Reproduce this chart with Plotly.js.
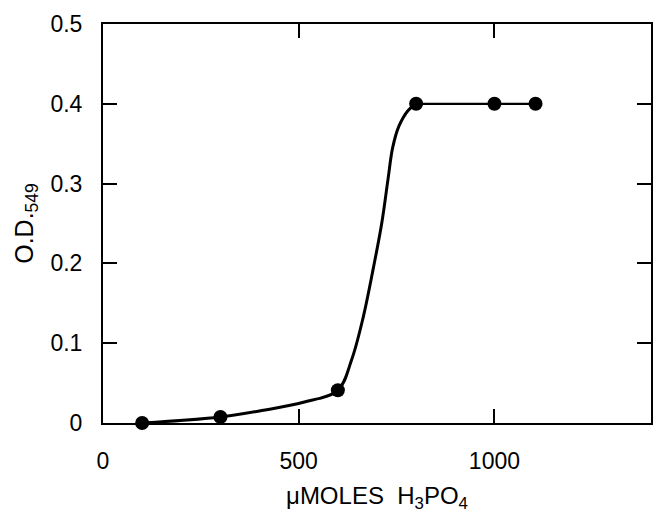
<!DOCTYPE html>
<html>
<head>
<meta charset="utf-8">
<script src="https://cdn.plot.ly/plotly-3.0.1.min.js"></script>
<style>html,body{margin:0;padding:0;background:#fff;}#chart{width:653px;height:513px;}</style>
</head>
<body>
<div id="chart"></div>
<script>
// Measured points
var dataX = [100, 300, 600, 800, 1000, 1105];
var dataY = [0, 0.0075, 0.041, 0.4, 0.4, 0.4];

// Hand-drawn rising curve
var curveX = [100, 300, 410, 512, 600, 635, 665, 691, 712, 728, 740, 756, 780, 800];
var curveY = [0, 0.0075, 0.016, 0.026, 0.041, 0.079, 0.133, 0.195, 0.25, 0.305, 0.345, 0.372, 0.392, 0.4];

// Plateau segment
var plateauX = [800, 1000, 1105];
var plateauY = [0.4, 0.4, 0.4];

// Tick labels
var xTickVals = [0, 500, 1000];
var xTickText = ["0", "500", "1000"];
var yTickVals = [0, 0.1, 0.2, 0.3, 0.4, 0.5];
var yTickText = ["0", "0.1", "0.2", "0.3", "0.4", "0.5"];

var font = "Liberation Sans, Arial, sans-serif";

var traces = [
  {x: curveX, y: curveY, mode: "lines", type: "scatter",
   line: {color: "#000", width: 3, shape: "spline", smoothing: 1},
   hoverinfo: "skip", cliponaxis: false},
  {x: plateauX, y: plateauY, mode: "lines", type: "scatter",
   line: {color: "#000", width: 2.2},
   hoverinfo: "skip", cliponaxis: false},
  {x: dataX, y: dataY, mode: "markers", type: "scatter",
   marker: {color: "#000", size: 14}, cliponaxis: false}
];

var axisCommon = {
  showline: true, linecolor: "#000", linewidth: 2, mirror: "ticks",
  ticks: "inside", ticklen: 14, tickwidth: 2, tickcolor: "#000",
  showgrid: false, zeroline: false, tickmode: "array",
  tickfont: {family: font, size: 23, color: "#000"}
};

var layout = {
  width: 653, height: 513,
  margin: {l: 103, r: 2, t: 24, b: 90},
  paper_bgcolor: "#fff", plot_bgcolor: "#fff",
  showlegend: false,
  xaxis: Object.assign({}, axisCommon, {
    range: [0, 1400], tickvals: xTickVals, ticktext: xTickText,
    ticklabelstandoff: 16,
    title: {text: "\u03bcMOLES\u00a0\u00a0H<sub>3</sub>PO<sub>4</sub>", font: {family: font, size: 24, color: "#000"}, standoff: 16}
  }),
  yaxis: Object.assign({}, axisCommon, {
    range: [0, 0.5], tickvals: yTickVals, ticktext: yTickText,
    ticklabelstandoff: 14,
    title: {text: "O.D.<sub>549</sub>", font: {family: font, size: 25, color: "#000"}, standoff: 10}
  })
};

Plotly.newPlot("chart", traces, layout, {displayModeBar: false, staticPlot: true});
</script>
</body>
</html>
